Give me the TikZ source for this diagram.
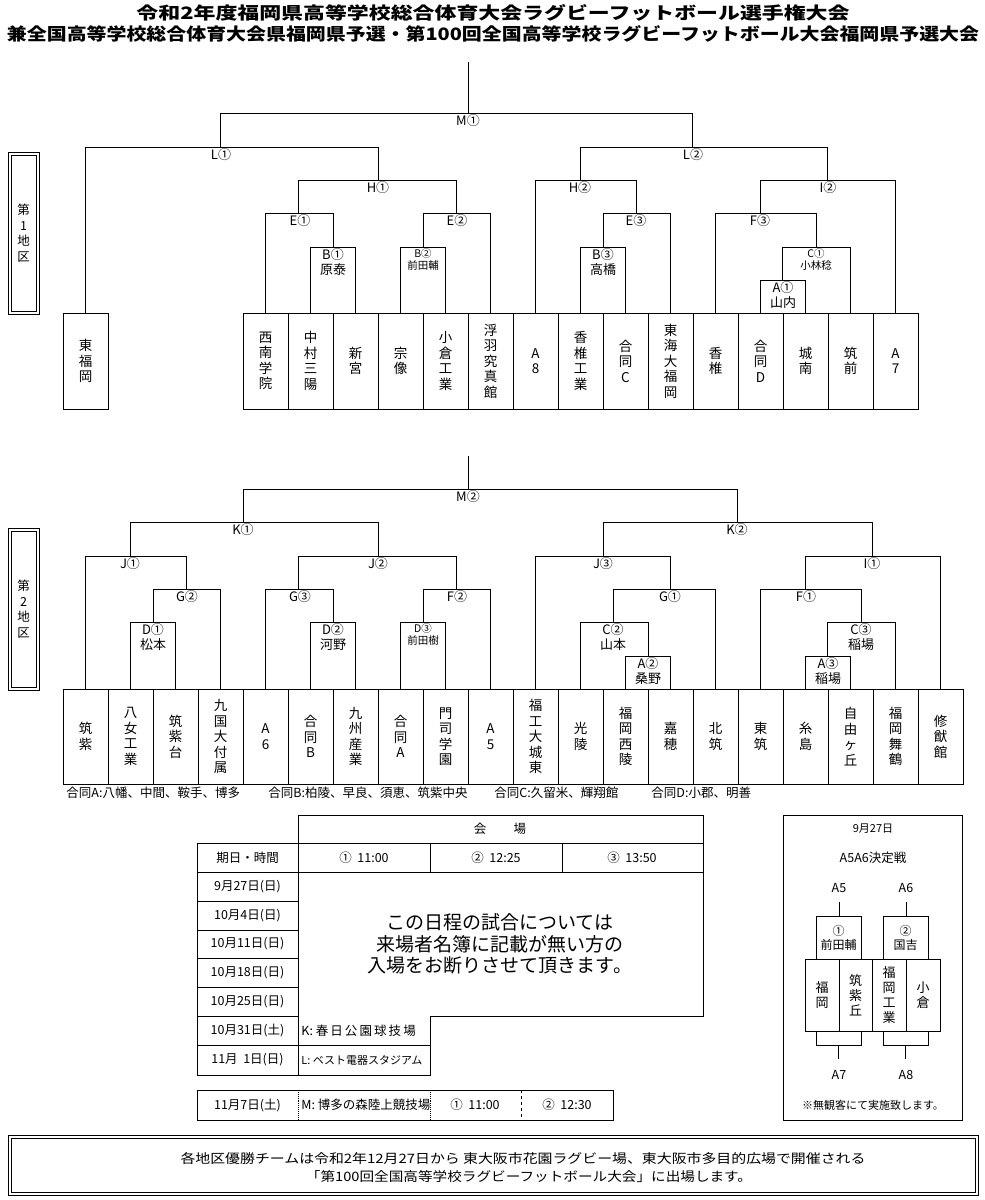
\documentclass[tikz,border=0pt]{standalone}
\usepackage{fontspec}
\setmainfont{Noto Sans CJK JP}
\usepackage{graphicx}
\newcommand\sm{\fontsize{10.5}{12}\selectfont}
% one bout of the bracket: left leg, right leg, bar height, label
\newcommand\bout[8][]{%
  \draw (#2,#3) -- (#2,#6) -- (#4,#6) -- (#4,#5);
  \node[lab,anchor=north,#1] at (#7,#6+1) {#8};}
\tikzset{
  lab/.style={font=\fontsize{13}{15}\selectfont,align=center,inner sep=0pt},
  team/.style={draw,minimum width=45pt,inner sep=0pt,align=center,
    font=\fontsize{13.5}{15.5}\selectfont},
  cell/.style={font=\fontsize{12.5}{14}\selectfont,inner sep=0pt},
}
\begin{document}
\begin{tikzpicture}[x=1pt,y=-1pt,line width=0.9pt]
\useasboundingbox (0,0) rectangle (985,1200);
% title
\node[font=\bfseries] at (493,13) {\resizebox{713pt}{15pt}{令和2年度福岡県高等学校総合体育大会ラグビーフットボール選手権大会}};
\node[font=\bfseries] at (493,34) {\resizebox{972pt}{15pt}{兼全国高等学校総合体育大会県福岡県予選・第100回全国高等学校ラグビーフットボール大会福岡県予選大会}};

% district 1
\draw (8,152) rectangle (39,314);
\draw (11,155) rectangle (36,311);
\node[lab,font=\fontsize{12.5}{15.5}\selectfont] at (23.5,233) {第\\1\\地\\区};
\node[team,minimum height=96pt] (t1a) at (85.5,361) {東\\福\\岡};
\foreach \t [count=\i from 0] in {{西\\南\\学\\院},{中\\村\\三\\陽},{新\\宮},{宗\\像},{小\\倉\\工\\業},
  {浮\\羽\\究\\真\\館},{A\\8},{香\\椎\\工\\業},{合\\同\\C},{東\\海\\大\\福\\岡},
  {香\\椎},{合\\同\\D},{城\\南},{筑\\前},{A\\7}}
  \node[team,minimum height=96pt] (s1t\i) at (265.5+45*\i,361) {\t};
\draw (468,62) -- (468,113);
\bout{220}{147}{692}{147}{113}{468}{M①}
\bout{85}{313}{378}{180}{147}{221}{L①}
\bout{580}{180}{827}{180}{147}{693}{L②}
\bout{298}{213}{456}{213}{180}{378}{H①}
\bout{535}{313}{636}{213}{180}{580}{H②}
\bout{760}{213}{895}{313}{180}{828}{I②}
\bout{265}{313}{333}{247}{213}{300}{E①}
\bout{423}{247}{490}{313}{213}{457}{E②}
\bout{603}{247}{670}{313}{213}{636}{E③}
\bout{715}{313}{816}{247}{213}{760}{F③}
\bout{310}{313}{355}{313}{247}{333}{B①\\原泰}
\bout[font=\sm]{400}{313}{445}{313}{247}{423}{B②\\前田輔}
\bout{580}{313}{625}{313}{247}{603}{B③\\高橋}
\bout[font=\sm]{782}{280}{850}{313}{247}{816}{C①\\小林稔}
\bout{760}{313}{805}{313}{280}{783}{A①\\山内}

% district 2
\draw (8,528) rectangle (39,690);
\draw (11,531) rectangle (36,687);
\node[lab,font=\fontsize{12.5}{15.5}\selectfont] at (23.5,609) {第\\2\\地\\区};
\foreach \t [count=\i from 0] in {{筑\\紫},{八\\女\\工\\業},{筑\\紫\\台},{九\\国\\大\\付\\属},{A\\6},
  {合\\同\\B},{九\\州\\産\\業},{合\\同\\A},{門\\司\\学\\園},{A\\5},
  {福\\工\\大\\城\\東},{光\\陵},{福\\岡\\西\\陵},{嘉\\穂},{北\\筑},
  {東\\筑},{糸\\島},{自\\由\\ヶ\\丘},{福\\岡\\舞\\鶴},{修\\猷\\館}}
  \node[team,minimum height=95pt] (s2t\i) at (85.5+45*\i,736.5) {\t};
\draw (468,456) -- (468,489);
\bout{243}{522}{737}{522}{489}{468}{M②}
\bout{130}{556}{378}{556}{522}{243}{K①}
\bout{603}{556}{872}{556}{522}{737}{K②}
\bout{85}{689}{186}{589}{556}{130}{J①}
\bout{298}{589}{456}{589}{556}{378}{J②}
\bout{535}{689}{670}{589}{556}{603}{J③}
\bout{805}{589}{940}{689}{556}{872}{I①}
\bout{153}{622}{220}{689}{589}{187}{G②}
\bout{265}{689}{333}{622}{589}{300}{G③}
\bout{423}{622}{490}{689}{589}{457}{F②}
\bout{613}{622}{715}{689}{589}{670}{G①}
\bout{760}{689}{861}{622}{589}{806}{F①}
\bout{130}{689}{175}{689}{622}{153}{D①\\松本}
\bout{310}{689}{355}{689}{622}{333}{D②\\河野}
\bout[font=\sm]{400}{689}{445}{689}{622}{423}{D③\\前田樹}
\bout{580}{689}{648}{656}{622}{613}{C②\\山本}
\bout{827}{656}{895}{689}{622}{861}{C③\\稲場}
\bout{625}{689}{670}{689}{656}{648}{A②\\桑野}
\bout{805}{689}{850}{689}{656}{828}{A③\\稲場}
\foreach \x/\t in {66/{合同A:八幡、中間、鞍手、博多},268/{合同B:柏陵、早良、須恵、筑紫中央},
  494/{合同C:久留米、輝翔館},651/{合同D:小郡、明善}}
  \node[cell,anchor=west] at (\x,793) {\t};

% schedule
\draw (298,815) rectangle (703,843);
\node[cell] at (500,829) {会\hspace{2.2em}場};
\draw (197,843) rectangle (703,872);
\foreach \x in {298,430,562} \draw (\x,843) -- (\x,872);
\node[cell] at (247.5,857.5) {期日・時間};
\node[cell] at (364,857.5) {① \ 11:00};
\node[cell] at (496,857.5) {② \ 12:25};
\node[cell] at (632,857.5) {③ \ 13:50};
\draw (197,872) rectangle (298,1075);
\foreach \y in {901,930,958,987,1016,1045} \draw (197,\y) -- (298,\y);
\foreach \y/\t in {886.5/{9月27日(日)},915.5/{10月4日(日)},944/{10月11日(日)},972.5/{10月18日(日)},
  1001.5/{10月25日(日)},1030.5/{10月31日(土)},1060/{11月\ \ 1日(日)}}
  \node[cell] at (247.5,\y) {\t};
\draw (298,872) -- (703,872) -- (703,1016) -- (430,1016) -- (430,1075) -- (298,1075);
\draw (298,1045) -- (430,1045);
\draw[densely dotted] (298,872) -- (298,1075);
\node[align=center,font=\fontsize{19}{21.5}\selectfont] at (500,944)
  {この日程の試合については\\来場者名簿に記載が無い方の\\入場をお断りさせて頂きます。};
\node[cell,anchor=west] at (301,1030.5) {K: 春\,日\,公\,園\,球\,技\,場};
\node[cell,anchor=west,font=\fontsize{11}{12}\selectfont] at (301,1060) {L: ベスト電器スタジアム};
\draw (197,1090) rectangle (613,1120);
\draw[densely dotted] (298,1090) -- (298,1120) (430,1090) -- (430,1120);
\draw[dashed] (521,1090) -- (521,1120);
\node[cell] at (247.5,1105) {11月7日(土)};
\node[cell,anchor=west] at (301,1105) {M: 博多の森陸上競技場};
\node[cell] at (475,1105) {① \ 11:00};
\node[cell] at (567,1105) {② \ 12:30};

% A5A6 play-off
\draw (783,815) rectangle (962,1120);
\node[cell,font=\fontsize{11}{12}\selectfont] at (873,829) {9月27日};
\node[cell] at (873,858) {A5A6決定戦};
\node[cell] at (839,888) {A5};
\node[cell] at (906,888) {A6};
\draw (839,902) -- (839,916) (906,902) -- (906,916);
\draw (816,916) rectangle (861,959) (883,916) rectangle (928,959);
\node[lab,font=\fontsize{12}{14}\selectfont] at (838.5,937.5) {①\\前田輔};
\node[lab,font=\fontsize{12}{14}\selectfont] at (905.5,937.5) {②\\国吉};
\foreach \x/\w/\t in {805/34/{福\\岡},839/33/{筑\\紫\\丘},872/34/{福\\岡\\工\\業},906/34/{小\\倉}}
  \draw (\x,959) rectangle ++(\w,72) node[lab,midway,font=\fontsize{13}{15}\selectfont] {\t};
\draw (816,1031) -- (816,1045) -- (861,1045) -- (861,1031) (838.5,1045) -- (838.5,1059);
\draw (883,1031) -- (883,1045) -- (928,1045) -- (928,1031) (905.5,1045) -- (905.5,1059);
\node[cell] at (839,1075) {A7};
\node[cell] at (906,1075) {A8};
\node[cell,font=\fontsize{11}{12}\selectfont] at (873,1105) {※無観客にて実施致します。};

% note
\draw (8,1135) rectangle (978,1195);
\draw (11,1138) rectangle (975,1192);
\node at (523,1159) {\resizebox{685pt}{11pt}{各地区優勝チームは令和2年12月27日から 東大阪市花園ラグビー場、東大阪市多目的広場で開催される}};
\node at (529,1177) {\resizebox{446pt}{11pt}{「第100回全国高等学校ラグビーフットボール大会」に出場します。}};
\end{tikzpicture}
\end{document}
